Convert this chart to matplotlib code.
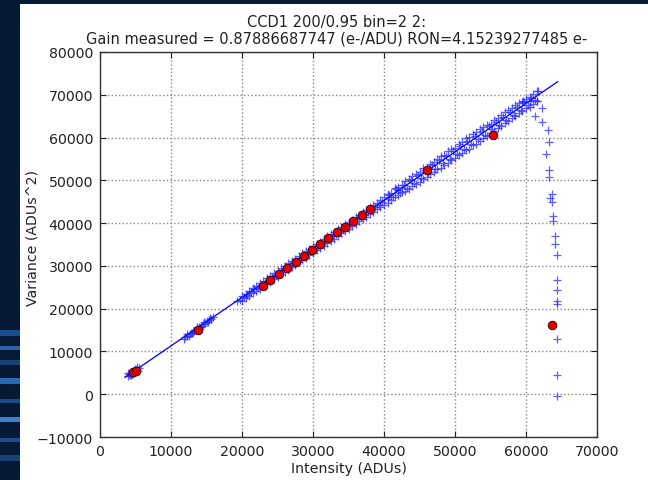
import matplotlib
matplotlib.use("Agg")
import matplotlib.pyplot as plt
from matplotlib.patches import Rectangle

# ---------------- data ----------------
# blue '+' samples: (intensity, variance)
pts_low_x = [3900, 4100, 4200, 4300, 4400, 4500, 4600, 4700, 4800, 4900, 5000, 5100, 5200, 5300, 5500,
             4000, 4350, 4650, 4950, 5250]
pts_low_y = [4300, 4700, 4400, 4600, 5000, 4800, 5300, 5400, 5000, 5600, 5300, 5700, 5800, 5500, 6100,
             4900, 5300, 4700, 5900, 6300]

pts_b_x = [11900, 12000, 12200, 12500, 12800, 13000, 13100, 13300, 13500, 13700,
           14000, 14200, 14300, 14500, 14800, 15000, 15300, 15500, 15600, 15900,
           12300, 12700, 13600, 14100, 14700, 15200]
pts_b_y = [13000, 13400, 13500, 13700, 14300, 14200, 14600, 14800, 15000, 15500,
           15600, 15800, 16000, 16300, 16700, 16800, 17300, 17800, 17600, 18100,
           14100, 14000, 15700, 15200, 17000, 16900]

pts_c_x = [19300, 19700, 20000, 20000, 20500, 20500, 21000, 21000, 21500, 21500,
           22000, 22000, 22500, 22500, 23000, 23000, 23500, 23500, 24000, 24000,
           24500, 24500, 25000, 25000, 25500, 25500, 26000, 26000, 26500, 26500,
           27000, 27000, 27500, 27500, 28000, 28000, 28500, 28500, 29000, 29000,
           29500, 29500, 30000, 30000, 30500, 30500, 31000, 31000, 31500, 31500,
           32000, 32000, 32500, 32500, 33000, 33000, 33500, 33500, 34000, 34000,
           34500, 34500, 35000, 35000, 35500, 35500, 36000, 36000, 36500, 36500,
           37000, 37000, 37500, 37500, 38000, 38000, 38500, 38500, 39000, 39000,
           39500, 39500, 40000, 40000]
pts_c_y = [21900, 22100, 22900, 21800, 23500, 22400, 24100, 23000, 24800, 23600,
           25300, 24100, 25900, 24700, 26500, 25200, 27100, 25800, 27700, 26300,
           28300, 26900, 28800, 27400, 29400, 28000, 30000, 28500, 30600, 29100,
           31100, 29700, 31700, 30200, 32300, 30800, 32900, 31300, 33400, 31900,
           34000, 32500, 34600, 33000, 35100, 33600, 35700, 34200, 36300, 34700,
           36900, 35300, 37400, 35900, 38000, 36400, 38600, 37000, 39100, 37600,
           39700, 38100, 40300, 38700, 40800, 39300, 41400, 39800, 42000, 40400,
           42500, 41000, 43100, 41500, 43700, 42100, 44300, 42700, 44800, 43200,
           45400, 43800, 46000, 44300]

pts_f_x = [20250, 20750, 21250, 21750, 22250, 22750, 23250, 23750, 24250, 24750,
           25250, 25750, 26250, 26750, 27250, 27750, 28250, 28750, 29250, 29750,
           30250, 30750, 31250, 31750, 32250, 32750, 33250, 33750, 34250, 34750,
           35250, 35750, 36250, 36750, 37250, 37750, 38250, 38750, 39250, 39750]
pts_f_y = [22700, 23300, 23800, 24500, 24900, 25600, 26000, 26700, 27300, 27800,
           28400, 29000, 29500, 30100, 30700, 31200, 31800, 32400, 32900, 33500,
           34100, 34700, 35200, 35800, 36400, 36900, 37500, 38000, 38700, 39200,
           39800, 40300, 40900, 41500, 42000, 42600, 43200, 43800, 44300, 44900]

pts_d_x = [40500, 40500, 40500, 41000, 41000, 41500, 41500, 42000, 42000, 42000,
           42500, 42500, 43000, 43000, 43500, 43500, 44000, 44000, 44500, 44500,
           45000, 45000, 45500, 45500, 46000, 46000, 46500, 46500, 47000, 47000,
           47500, 47500, 48000, 48000, 48500, 48500, 49000, 49000, 49500, 49500,
           50000, 50000, 50500, 50500, 51000, 51000, 51500, 51500, 52000, 52000,
           52500, 52500, 53000, 53000, 53500, 53500, 54000, 54000, 54500, 54500,
           55000, 55000, 55500, 55500, 56000, 56000, 56500, 56500, 57000, 57000,
           57500, 57500, 58000, 58000, 58500, 58500, 59000, 59000, 59500, 59500,
           60000, 60000, 60500, 60500, 61000, 61000, 61500, 61500, 59600, 60600, 61500]
pts_d_y = [46900, 44800, 45600, 47000, 45300, 48200, 46000, 48500, 46500, 47800,
           49000, 47200, 49800, 47600, 50300, 48000, 50900, 48700, 51500, 49200,
           51900, 49600, 52800, 50300, 53000, 50800, 53900, 51400, 54200, 51900,
           55000, 52600, 55600, 53000, 56000, 53700, 56800, 54000, 57300, 54700,
           57500, 55200, 58600, 56000, 59000, 56400, 59800, 57000, 60100, 57400,
           60800, 58200, 61400, 58600, 61900, 59100, 62500, 59800, 63000, 60300,
           63200, 61000, 64100, 61500, 64500, 62200, 65300, 62600, 65900, 63300,
           66400, 63800, 67000, 64600, 67500, 65000, 68000, 65700, 68300, 66200,
           69000, 66800, 69500, 67200, 70200, 67800, 71000, 68500, 68600, 68600, 68600]

pts_g_x = [40750, 41250, 41750, 42250, 42750, 43250, 43750, 44250, 44750, 45250,
           45750, 46250, 46750, 47250, 47750, 48250, 48750, 49250, 49750, 50250,
           50750, 51250, 51750, 52250, 52750, 53250, 53750, 54250, 54750, 55250,
           55750, 56250, 56750, 57250, 57750, 58250, 58750, 59250, 59750, 60250,
           60750, 61250]
pts_g_y = [46500, 46100, 47900, 47000, 48900, 48200, 50100, 49400, 51200, 50600,
           52300, 51700, 53600, 52700, 54700, 54000, 55800, 55000, 56900, 56200,
           58000, 57300, 59200, 58500, 60300, 59700, 61500, 60700, 62600, 61900,
           63700, 63000, 64900, 64100, 66000, 65300, 67100, 66500, 68200, 67600,
           69300, 68800]

# saturation drop
pts_e_x = [61700, 62200, 61300, 62300, 63100, 63300, 62800, 63200, 63200, 63600,
           63400, 63700, 63850, 63850, 64100, 64100, 64300, 64300, 64300, 64300,
           64300, 64300, 64300, 64300]
pts_e_y = [70800, 66800, 65100, 63600, 61800, 59000, 56200, 52300, 50700, 46800,
           45800, 44900, 41700, 40600, 37100, 35100, 32600, 26700, 24400, 21900,
           21100, 12900, 4500, -350]

# red binned means
mean_x = [4700, 5100, 13850, 22900, 24000, 25200, 26400, 27550, 28700, 29850, 31000,
          32150, 33350, 34500, 35650, 36850, 38000, 46000, 55400, 63600]
mean_y = [5100, 5500, 15000, 25400, 26800, 28100, 29600, 31000, 32400, 33700, 35100,
          36500, 37850, 39150, 40400, 41950, 43300, 52400, 60600, 16200]

# linear fit
fit_x = [3520, 64460]
fit_y = [3950, 73050]

title_lines = ["CCD1 200/0.95 bin=2 2:",
               "Gain measured = 0.87886687747 (e-/ADU) RON=4.15239277485 e-"]
xticks = [0, 10000, 20000, 30000, 40000, 50000, 60000, 70000]
yticks = [-10000, 0, 10000, 20000, 30000, 40000, 50000, 60000, 70000, 80000]

# ---------------- figure ----------------
W, H = 648, 481
fig = plt.figure(figsize=(W / 100, H / 100), dpi=100, facecolor="#061a35")
fig.patches.append(Rectangle((20 / W, 0), 1 - 20 / W, 1 - 5 / H, transform=fig.transFigure,
                             facecolor="white", edgecolor="none", zorder=-5))
# some light streaks on the dark left margin
for yy, hh, cc in [(0.30, 0.012, "#1b4d8c"), (0.27, 0.008, "#2a63a8"), (0.24, 0.01, "#174277"),
                   (0.20, 0.012, "#2a6ab5"), (0.16, 0.008, "#1b4d8c"), (0.12, 0.01, "#3a7fd0"),
                   (0.08, 0.008, "#1d5090"), (0.04, 0.012, "#174277")]:
    fig.patches.append(Rectangle((0, yy), 20 / W, hh, transform=fig.transFigure,
                                 facecolor=cc, edgecolor="none", zorder=-5))

ax = fig.add_axes([100 / W, 1 - 438 / H, (597 - 100) / W, (438 - 53) / H])
ax.set_zorder(1)
ax.set_facecolor("white")

FS = 10.2
for xs, ys in [(pts_low_x, pts_low_y), (pts_b_x, pts_b_y), (pts_c_x, pts_c_y),
               (pts_f_x, pts_f_y), (pts_d_x, pts_d_y), (pts_g_x, pts_g_y),
               (pts_e_x, pts_e_y)]:
    ax.plot(xs, ys, linestyle="none", marker="+", color="#2a2aff", markersize=5.5,
            markeredgewidth=0.9, alpha=0.75, zorder=2)
ax.plot(fit_x, fit_y, color="#1010ee", lw=1.0, zorder=3)
ax.plot(mean_x, mean_y, linestyle="none", marker="o", color="#e00000",
        markeredgecolor="#300000", markeredgewidth=0.6, markersize=6.2, zorder=4)

ax.set_xlim(0, 70000)
ax.set_ylim(-10000, 80000)
ax.set_xticks(xticks)
ax.set_yticks(yticks)
ax.tick_params(direction="in", top=True, right=True, labelsize=FS, length=4,
               colors="#222222", pad=5)
ax.grid(True, color="#888888", linestyle=":", linewidth=1.0)
for s in ax.spines.values():
    s.set_color("#333333")
    s.set_linewidth(1.0)
ax.set_xlabel("Intensity (ADUs)", fontsize=FS, color="#222222", labelpad=2)
ax.set_ylabel("Variance (ADUs^2)", fontsize=FS, color="#222222")
ax.yaxis.set_label_coords((40 - 100) / 497, 0.52)

fig.text(337 / W, 1 - 22 / H, title_lines[0], ha="center", va="center", fontsize=FS + 0.3,
         color="#222222")
fig.text(337 / W, 1 - 39 / H, title_lines[1], ha="center", va="center", fontsize=FS + 0.3,
         color="#222222")

fig.savefig("out.png", dpi=100, facecolor=fig.get_facecolor())
